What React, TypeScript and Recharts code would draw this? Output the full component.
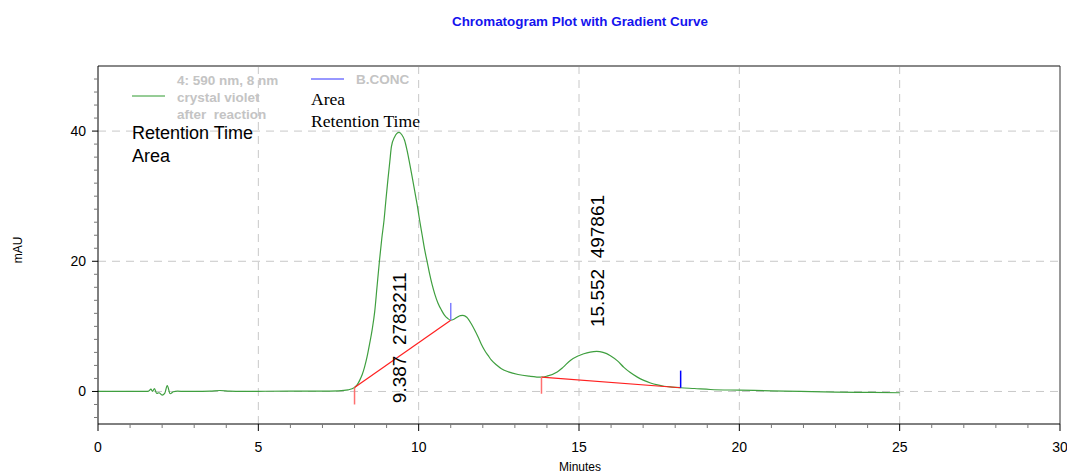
import React from 'react';
import { ComposedChart, Line, XAxis, YAxis, ReferenceLine, Scatter } from 'recharts';

// retention time (min) and absorbance (mAU)
const traceTime = [
  0, 0.5, 1.0, 1.5, 1.58, 1.65, 1.7, 1.76, 1.83, 1.9, 2.0, 2.08, 2.16, 2.25, 2.35, 2.48, 2.7, 3.0, 3.5, 3.8, 4.1, 4.5,
  5.0, 6.0, 7.0, 7.5, 7.8, 8.0, 8.08, 8.16, 8.24, 8.31, 8.39, 8.47, 8.55, 8.63, 8.7, 8.78, 8.85, 8.92, 8.98, 9.04,
  9.1, 9.15, 9.25, 9.387, 9.48, 9.56, 9.64, 9.72, 9.8, 9.88, 9.96, 10.03, 10.11, 10.19, 10.27, 10.34, 10.42, 10.5,
  10.6, 10.71, 10.81, 10.91, 11.0, 11.1, 11.2, 11.3, 11.38, 11.5, 11.64, 11.75, 11.85, 11.95, 12.06, 12.17, 12.27,
  12.42, 12.58, 12.8, 13.1, 13.45, 13.83, 14.0, 14.32, 14.5, 14.74, 14.95, 15.15, 15.35, 15.552, 15.75, 15.98, 16.2,
  16.4, 16.6, 16.82, 17.02, 17.23, 17.45, 17.65, 17.9, 18.17, 18.6, 19.1, 20.0, 21.0, 21.9, 23.0, 24.0, 25.0,
];
const traceMau = [
  0, 0.02, 0, 0.02, 0.05, 0.35, 0.0, 0.45, -0.3, -0.2, -0.55, -0.3, 0.9, -0.35, -0.05, 0.05, 0, 0, 0.05, 0.15, 0.05, 0,
  0.02, 0.05, 0.05, 0.1, 0.25, 0.6, 1.0, 1.7, 2.6, 3.7, 5.3, 7.3, 9.5, 12.3, 16, 20.2, 23.5, 26.3, 29.5, 32.5,
  35.3, 37.6, 39.1, 39.8, 39.4, 38.6, 37.0, 35, 32.9, 30.7, 28.5, 26.3, 24, 21.7, 19.8, 18.1, 16.4, 15.0,
  13.6, 12.5, 11.7, 11.2, 10.95, 11.1, 11.4, 11.65, 11.7, 11.4, 10.4, 9.4, 8.4, 7.3, 6.3, 5.5, 4.8,
  4.1, 3.5, 3.0, 2.6, 2.35, 2.2, 2.35, 3.0, 3.7, 4.8, 5.4, 5.8, 6.05, 6.15, 6.0, 5.5, 4.7,
  3.7, 2.9, 2.2, 1.7, 1.3, 1.0, 0.8, 0.67, 0.57, 0.45, 0.3, 0.2, 0.1, 0.0, -0.1, -0.15, -0.2,
];

// integration baselines: [start, end]
const baselineStart = [
  { x: 8.0, y: 0.6 },
  { x: 13.83, y: 2.2 },
];
const baselineEnd = [
  { x: 11.0, y: 10.95 },
  { x: 18.17, y: 0.57 },
];
// start markers (red, downward) and end markers (blue, upward) tips
const startMarkTip = [-2.0, -0.35];
const endMarkTip = [13.6, 3.2];
const endMarkColor = ['#7f7fff', '#0000ff'];

const peakLabels = [
  { t: 9.387, y: -1.8, text: '9.387\u00a0\u00a02783211' },
  { t: 15.552, y: 9.9, text: '15.552\u00a0\u00a0497861' },
];

const xTicks = [0, 1, 2, 3, 4, 5, 6, 7, 8, 9, 10, 11, 12, 13, 14, 15, 16, 17, 18, 19, 20, 21, 22, 23, 24, 25, 26, 27, 28, 29, 30];
const yTicks = [-4, -2, 0, 2, 4, 6, 8, 10, 12, 14, 16, 18, 20, 22, 24, 26, 28, 30, 32, 34, 36, 38, 40, 42, 44, 46, 48];
const xGrid = [5, 10, 15, 20, 25];
const yGrid = [0, 20, 40];

const trace = traceTime.map((t, i) => ({ t, v: traceMau[i] }));

const SANS = '"Liberation Sans", Arial, sans-serif';
const SERIF = '"Liberation Serif", "Times New Roman", serif';
const GRID = '#c8c8c8';

const XTick = ({ x, y, payload }: any) => {
  const major = payload.value % 5 === 0;
  return (
    <g>
      <line x1={x} x2={x} y1={y} y2={y + (major ? 7 : 4)} stroke={major ? '#000' : '#777'} />
      {major && (
        <text x={x} y={y + 28} textAnchor="middle" fontSize={14} fontFamily={SANS} fill="#000">
          {payload.value}
        </text>
      )}
    </g>
  );
};

const YTick = ({ x, y, payload }: any) => {
  const major = payload.value % 20 === 0;
  return (
    <g>
      <line x1={x - (major ? 6 : 4)} x2={x} y1={y} y2={y} stroke={major ? '#000' : '#777'} />
      {major && (
        <text x={x - 12} y={y + 5} textAnchor="end" fontSize={14} fontFamily={SANS} fill="#000">
          {payload.value}
        </text>
      )}
    </g>
  );
};

const PeakLabel = ({ cx, cy, payload }: any) => (
  <text x={cx} y={cy} dy="0.36em" transform={`rotate(-90 ${cx} ${cy})`} fontSize={19} fontFamily={SANS} fill="#000">
    {payload.text}
  </text>
);

export default function App() {
  return (
    <div style={{ position: 'absolute', left: 0, top: 0, width: 1067, height: 475, background: '#fff' }}>
      <ComposedChart width={1067} height={475} data={trace} margin={{ top: 66, right: 7, bottom: 21, left: 0 }}>
        <XAxis
          dataKey="t"
          type="number"
          domain={[0, 30]}
          ticks={xTicks}
          interval={0}
          allowDataOverflow
          height={30}
          tickSize={0}
          tickMargin={0}
          tickLine={false}
          axisLine={{ stroke: '#000' }}
          tick={<XTick />}
        />
        <YAxis
          type="number"
          domain={[-5, 50]}
          ticks={yTicks}
          interval={0}
          allowDataOverflow
          width={98}
          tickSize={0}
          tickMargin={0}
          tickLine={false}
          axisLine={{ stroke: '#000' }}
          tick={<YTick />}
        />

        {xGrid.map((v) => (
          <ReferenceLine key={`gx${v}`} x={v} stroke={GRID} strokeDasharray="8 6" />
        ))}
        {yGrid.map((v) => (
          <ReferenceLine key={`gy${v}`} y={v} stroke={GRID} strokeDasharray="8 6" />
        ))}
        <ReferenceLine y={50} stroke="#888" strokeWidth={2} />
        <ReferenceLine x={30} stroke="#333" />

        <Line dataKey="v" type="monotone" stroke="#3f9f3f" strokeWidth={1.2} dot={false} activeDot={false} isAnimationActive={false} />

        {baselineStart.map((s, i) => (
          <ReferenceLine key={`bl${i}`} segment={[s, baselineEnd[i]]} stroke="#ff2020" strokeWidth={1.2} />
        ))}
        {baselineStart.map((s, i) => (
          <ReferenceLine key={`sm${i}`} segment={[s, { x: s.x, y: startMarkTip[i] }]} stroke="#ff7070" strokeWidth={1.5} />
        ))}
        {baselineEnd.map((e, i) => (
          <ReferenceLine key={`em${i}`} segment={[e, { x: e.x, y: endMarkTip[i] }]} stroke={endMarkColor[i]} strokeWidth={1.5} />
        ))}

        <Scatter data={peakLabels} dataKey="y" shape={<PeakLabel />} isAnimationActive={false} />
      </ComposedChart>

      <svg width={1067} height={475} style={{ position: 'absolute', left: 0, top: 0, pointerEvents: 'none' }}>
        <text x={580} y={26} textAnchor="middle" fontSize={13.4} fontWeight="bold" fontFamily={SANS} fill="#1414ee">
          Chromatogram Plot with Gradient Curve
        </text>
        <text x={0} y={0} transform="translate(22 250) rotate(-90)" textAnchor="middle" fontSize={12} fontFamily={SANS} fill="#000">
          mAU
        </text>
        <text x={580} y={471} textAnchor="middle" fontSize={12} fontFamily={SANS} fill="#000">
          Minutes
        </text>

        <line x1={132} x2={165} y1={96} y2={96} stroke="#2f9a2f" />
        <g fontSize={13.5} fontWeight="bold" fontFamily={SANS} fill="#c4c4c4">
          <text x={177} y={85}>4: 590 nm, 8 nm</text>
          <text x={177} y={102}>crystal violet</text>
          <text x={177} y={119}>{'after\u00a0\u00a0reaction'}</text>
          <text x={356} y={84}>B.CONC</text>
        </g>
        <line x1={311} x2={344} y1={79} y2={79} stroke="#3030ff" />
        <g fontSize={17.6} fontFamily={SERIF} fill="#000">
          <text x={311} y={105}>Area</text>
          <text x={311} y={127}>Retention Time</text>
        </g>
        <g fontSize={18} fontFamily={SANS} fill="#000">
          <text x={132} y={139}>Retention Time</text>
          <text x={132} y={162}>Area</text>
        </g>
      </svg>
    </div>
  );
}
